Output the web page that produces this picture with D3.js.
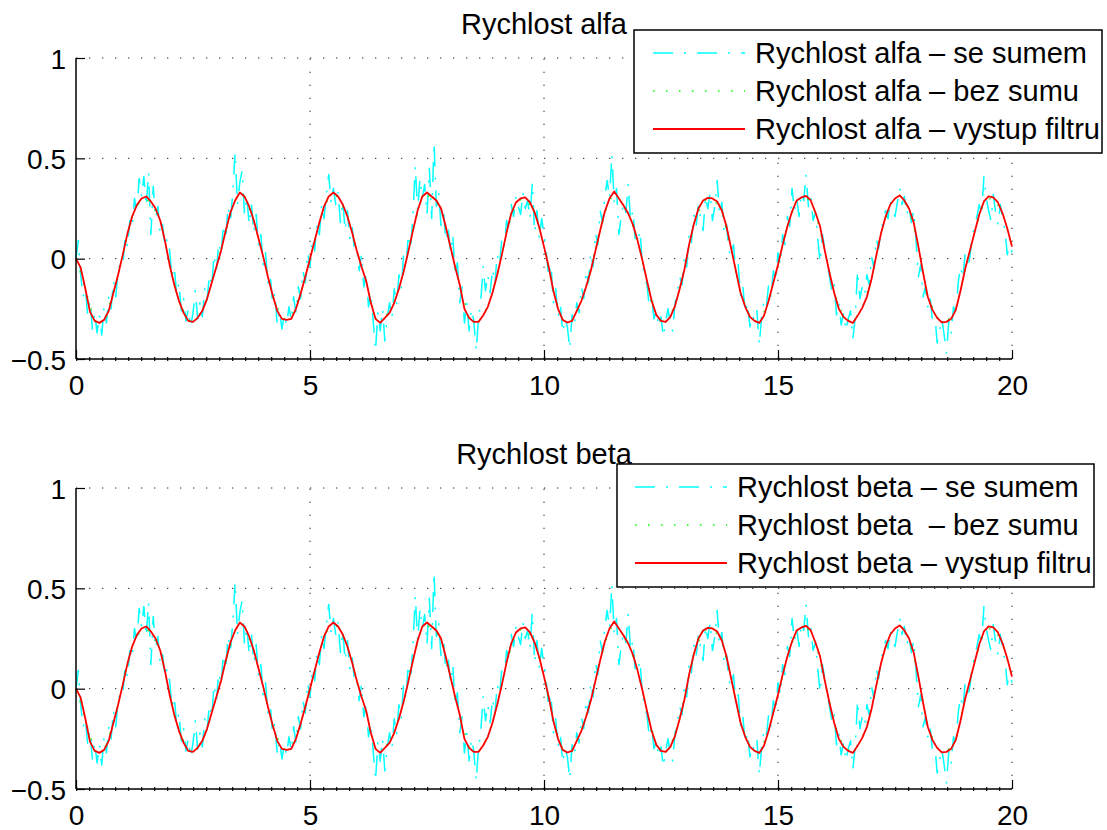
<!DOCTYPE html>
<html>
<head>
<meta charset="utf-8">
<script src="https://cdn.jsdelivr.net/npm/d3@7"></script>
<style>
  body { margin: 0; background: #fff; }
  text { font-family: "Liberation Sans", Arial, Helvetica, sans-serif; fill: #000; }
</style>
</head>
<body>
<svg id="fig" width="1107" height="830"></svg>
<script>
// ---- data ---------------------------------------------------------------
const xTicks = [0, 5, 10, 15, 20];
const yTicks = [-0.5, 0, 0.5, 1];
const yTickLabels = ["\u22120.5", "0", "0.5", "1"];

// sample spacing (s) of the three recorded signals
const noisyStep = 0.05;
const cleanStep = 0.2;
const filterStep = 0.1;

// measured speed with noise ("se sumem")
const noisySpeed = [
  0, 0.09, -0.08, -0.19, -0.15, -0.28, -0.21, -0.35, -0.27, -0.37, -0.28, -0.38, -0.24, -0.32, -0.19, -0.25, -0.11, -0.19, -0.06, -0.02,
  -0.03, 0.11, 0.06, 0.19, 0.15, 0.30, 0.23, 0.40, 0.31, 0.41, 0.26, 0.43, 0.12, 0.36, 0.20, 0.26, 0.12, 0.17, 0.06, 0.10,
  0.04, -0.09, -0.04, -0.18, -0.12, -0.26, -0.20, -0.31, -0.25, -0.34, -0.27, -0.16, -0.30, -0.22, -0.29, -0.15, -0.21, -0.08, -0.14, 0.02,
  -0.06, 0.08, 0.02, 0.17, 0.10, 0.26, 0.19, 0.33, 0.53, 0.27, 0.38, 0.44, 0.22, 0.31, 0.17, 0.27, 0.13, 0.22, 0.06, 0.12,
  -0.03, 0.03, -0.12, -0.08, -0.22, -0.17, -0.33, -0.26, -0.35, -0.28, -0.33, -0.24, -0.31, -0.19, -0.27, -0.14, -0.20, -0.06, -0.12, 0.03,
  -0.04, 0.10, 0.04, 0.18, 0.12, 0.27, 0.20, 0.32, 0.42, 0.28, 0.35, 0.27, 0.33, 0.18, 0.29, 0.14, 0.24, 0.10, 0.16, 0.04,
  0.05, -0.06, 0.02, -0.14, -0.08, -0.24, -0.17, -0.31, -0.46, -0.27, -0.36, -0.25, -0.41, -0.29, -0.22, -0.30, -0.15, -0.23, -0.08, -0.15,
  0.02, -0.05, 0.12, 0.05, 0.22, 0.46, 0.24, 0.40, 0.30, 0.37, 0.22, 0.45, 0.20, 0.58, 0.26, 0.33, 0.16, 0.25, 0.09, 0.16,
  0.03, 0.12, -0.08, -0.02, -0.22, -0.14, -0.32, -0.22, -0.36, -0.25, -0.31, -0.46, -0.30, -0.21, -0.04, -0.16, -0.08, -0.17, -0.05, -0.13,
  0.02, -0.03, 0.10, 0.06, 0.19, 0.15, 0.27, 0.21, 0.31, 0.26, 0.22, 0.33, 0.25, 0.29, 0.20, 0.38, 0.13, 0.24, 0.10, 0.20,
  0.12, 0.03, -0.09, -0.03, -0.22, -0.15, -0.29, -0.23, -0.37, -0.30, -0.34, -0.45, -0.28, -0.33, -0.22, -0.27, -0.14, -0.20, -0.06, -0.12,
  0.03, -0.04, 0.13, 0.07, 0.24, 0.18, 0.31, 0.39, 0.30, 0.52, 0.28, 0.35, 0.12, 0.21, 0.28, 0.23, 0.37, 0.19, 0.24, 0.09,
  0.08, 0.14, -0.02, -0.09, -0.13, -0.24, -0.19, -0.30, -0.26, -0.34, -0.29, -0.39, -0.31, -0.25, -0.33, -0.36, -0.22, -0.17, -0.09, -0.13,
  0.01, -0.04, 0.13, 0.08, 0.22, 0.16, 0.27, 0.20, 0.14, 0.31, 0.25, 0.33, 0.19, 0.26, 0.39, 0.22, 0.28, 0.12, 0.17, 0.04,
  0.01, 0.07, -0.08, -0.03, -0.19, -0.14, -0.27, -0.22, -0.34, -0.28, -0.31, -0.26, -0.43, -0.29, -0.21, -0.24, -0.13, -0.19, -0.06, -0.11,
  0.03, -0.03, 0.12, 0.07, 0.21, 0.16, 0.35, 0.24, 0.30, 0.21, 0.33, 0.29, 0.42, 0.26, 0.31, 0.19, 0.23, 0.10, -0.02, 0.12,
  0.05, -0.02, -0.09, -0.16, -0.12, -0.28, -0.22, -0.33, -0.27, -0.36, -0.30, -0.26, -0.40, -0.29, -0.06, -0.20, -0.14, -0.18, -0.08, -0.13,
  0.01, -0.05, 0.10, 0.05, 0.14, 0.19, 0.24, 0.20, 0.29, 0.24, 0.21, 0.28, 0.35, 0.27, 0.31, 0.22, 0.26, 0.18, 0.24, 0.09,
  -0.09, -0.03, -0.19, -0.14, -0.24, -0.19, -0.31, -0.27, -0.42, -0.36, -0.30, -0.38, -0.47, -0.31, -0.37, -0.24, -0.28, -0.12, -0.04, -0.10,
  0.03, -0.05, 0.01, 0.11, 0.16, 0.21, 0.27, 0.22, 0.41, 0.30, 0.24, 0.19, 0.32, 0.23, 0.17, 0.27, 0.20, 0.14, 0.02, 0.10,
  0.03
];

// ideal speed without noise ("bez sumu")
const cleanSpeed = [
  0, -0.15, -0.31, -0.305, -0.17, 0.02, 0.21, 0.30, 0.285, 0.19,
  -0.03, -0.21, -0.31, -0.295, -0.20, -0.04, 0.14, 0.29, 0.31, 0.19,
  0.01, -0.18, -0.30, -0.30, -0.17, 0.0, 0.18, 0.31, 0.31, 0.21,
  0.04, -0.11, -0.30, -0.295, -0.22, -0.065, 0.14, 0.31, 0.31, 0.25,
  0.06, -0.13, -0.295, -0.315, -0.24, -0.08, 0.13, 0.28, 0.305, 0.23,
  0.06, -0.16, -0.305, -0.31, -0.21, -0.06, 0.14, 0.30, 0.30, 0.225,
  0.09, -0.11, -0.28, -0.315, -0.235, -0.055, 0.17, 0.29, 0.30, 0.24,
  0.05, -0.17, -0.29, -0.32, -0.21, -0.03, 0.16, 0.29, 0.313, 0.23,
  0.04, -0.17, -0.29, -0.32, -0.245, -0.10, 0.125, 0.27, 0.315, 0.25,
  0.06, -0.19, -0.295, -0.315, -0.255, -0.05, 0.13, 0.285, 0.305, 0.225,
  0.06
];

// filter output ("vystup filtru")
const filteredSpeed = [
  0, -0.045, -0.15, -0.265, -0.31, -0.32, -0.305, -0.26, -0.17, -0.08, 0.02, 0.125, 0.21, 0.267, 0.30, 0.31, 0.285, 0.25, 0.19, 0.09,
  -0.03, -0.13, -0.21, -0.27, -0.31, -0.315, -0.295, -0.26, -0.20, -0.12, -0.04, 0.04, 0.14, 0.23, 0.29, 0.33, 0.31, 0.26, 0.19, 0.10,
  0.01, -0.09, -0.18, -0.26, -0.30, -0.305, -0.30, -0.25, -0.175, -0.09, 0.0, 0.09, 0.18, 0.26, 0.31, 0.33, 0.31, 0.27, 0.21, 0.13,
  0.04, -0.04, -0.11, -0.22, -0.30, -0.32, -0.295, -0.27, -0.22, -0.15, -0.065, 0.035, 0.14, 0.24, 0.31, 0.33, 0.31, 0.29, 0.25, 0.16,
  0.06, -0.04, -0.13, -0.25, -0.295, -0.315, -0.315, -0.283, -0.24, -0.17, -0.08, 0.02, 0.13, 0.225, 0.28, 0.30, 0.305, 0.28, 0.23, 0.155,
  0.06, -0.04, -0.16, -0.25, -0.305, -0.318, -0.31, -0.26, -0.21, -0.14, -0.06, 0.04, 0.14, 0.235, 0.30, 0.335, 0.30, 0.265, 0.225, 0.17,
  0.09, -0.005, -0.11, -0.21, -0.28, -0.31, -0.315, -0.29, -0.235, -0.15, -0.055, 0.07, 0.17, 0.25, 0.29, 0.303, 0.30, 0.285, 0.24, 0.16,
  0.05, -0.06, -0.17, -0.24, -0.29, -0.31, -0.32, -0.285, -0.21, -0.12, -0.03, 0.07, 0.16, 0.235, 0.29, 0.305, 0.313, 0.29, 0.23, 0.16,
  0.04, -0.07, -0.17, -0.25, -0.29, -0.31, -0.32, -0.285, -0.245, -0.19, -0.10, 0.015, 0.125, 0.21, 0.27, 0.30, 0.315, 0.29, 0.25, 0.18,
  0.06, -0.07, -0.19, -0.255, -0.295, -0.318, -0.315, -0.30, -0.255, -0.16, -0.05, 0.04, 0.13, 0.22, 0.285, 0.31, 0.305, 0.28, 0.225, 0.15,
  0.06
];

const panelTitles = ["Rychlost alfa", "Rychlost beta"];
const legendLabels = [
  ["Rychlost alfa \u2013 se sumem", "Rychlost alfa \u2013 bez sumu", "Rychlost alfa \u2013 vystup filtru"],
  ["Rychlost beta \u2013 se sumem", "Rychlost beta  \u2013 bez sumu", "Rychlost beta \u2013 vystup filtru"]
];

// ---- layout & styles ----------------------------------------------------
const plotLeft = 76, plotRight = 1012;
const panelLayout = [
  { top: 58, bottom: 359, titleY: 34,
    legend: { x: 634, y: 30, w: 468, h: 123, line0: 653, line1: 745, textX: 755, rows: [53, 91, 129] } },
  { top: 488, bottom: 789, titleY: 464,
    legend: { x: 617, y: 464, w: 477, h: 123, line0: 635, line1: 727, textX: 737, rows: [487, 525, 563] } }
];
const seriesStyle = [
  { color: "#00ffff", width: 1.5, dash: "20,11,2,11" },
  { color: "#00ff00", width: 1.3, dash: "1.5,11.5" },
  { color: "#ff0000", width: 1.8, dash: null }
];
const tickFontSize = 28;
const textFontSize = 29;

const svg = d3.select("#fig");
const x = d3.scaleLinear().domain([0, 20]).range([plotLeft, plotRight]);

const toPoints = (vals, step) => vals.map((v, i) => [i * step, v]);
const series = [
  toPoints(noisySpeed, noisyStep),
  toPoints(cleanSpeed, cleanStep),
  toPoints(filteredSpeed, filterStep)
];

panelLayout.forEach((L, p) => {
  const y = d3.scaleLinear().domain([-0.5, 1]).range([L.bottom, L.top]);
  const g = svg.append("g");

  // dotted grid
  const grid = g.append("g").attr("stroke", "#222").attr("stroke-width", 1)
    .attr("stroke-dasharray", "1.3,11.7");
  grid.selectAll("line.gx").data(xTicks.filter(d => d > 0)).join("line")
    .attr("x1", d => x(d)).attr("x2", d => x(d))
    .attr("y1", L.bottom).attr("y2", L.top);
  grid.selectAll("line.gy").data(yTicks).join("line")
    .attr("x1", plotLeft).attr("x2", plotRight)
    .attr("y1", d => y(d)).attr("y2", d => y(d))
    .attr("stroke-width", d => d === -0.5 ? 4 : 1);

  // signals
  const line = d3.line().x(d => x(d[0])).y(d => y(d[1]));
  series.forEach((pts, k) => {
    const s = seriesStyle[k];
    g.append("path").datum(pts).attr("d", line)
      .attr("fill", "none").attr("stroke", s.color)
      .attr("stroke-width", s.width)
      .attr("stroke-dasharray", s.dash)
      .attr("stroke-linejoin", "round");
  });

  // axes (left and bottom only)
  const xAxis = d3.axisBottom(x).tickValues(xTicks).tickSize(-9).tickPadding(14)
    .tickFormat(d3.format("d"));
  const yAxis = d3.axisLeft(y).tickValues(yTicks).tickSize(-9).tickPadding(10)
    .tickFormat((d, i) => yTickLabels[i]);
  const ax = g.append("g").attr("transform", `translate(0,${L.bottom})`).call(xAxis);
  const ay = g.append("g").attr("transform", `translate(${plotLeft},0)`).call(yAxis);
  [ax, ay].forEach(a => {
    a.select(".domain").attr("stroke", "#000").attr("stroke-width", 1.5)
      .attr("d", a === ax ? `M${plotLeft},0H${plotRight}` : `M0,${L.bottom}V${L.top}`);
    a.selectAll(".tick line").attr("stroke", "#000").attr("stroke-width", 1.2);
    a.selectAll(".tick text").attr("font-size", tickFontSize)
      .attr("font-family", "Liberation Sans, Arial, sans-serif").attr("fill", "#000");
  });
  ax.selectAll(".tick text").attr("dy", "0.71em").attr("y", 16);
  ay.selectAll(".tick text").attr("dy", "0.36em").attr("x", -10);

  // title
  g.append("text").attr("x", (plotLeft + plotRight) / 2).attr("y", L.titleY)
    .attr("text-anchor", "middle").attr("font-size", textFontSize)
    .text(panelTitles[p]);

  // legend
  const lg = g.append("g");
  lg.append("rect").attr("x", L.legend.x).attr("y", L.legend.y)
    .attr("width", L.legend.w).attr("height", L.legend.h)
    .attr("fill", "#fff").attr("stroke", "#000").attr("stroke-width", 1.5);
  legendLabels[p].forEach((lab, k) => {
    const s = seriesStyle[k];
    const ry = L.legend.rows[k];
    lg.append("line").attr("x1", L.legend.line0).attr("x2", L.legend.line1)
      .attr("y1", ry).attr("y2", ry)
      .attr("stroke", s.color).attr("stroke-width", s.width)
      .attr("stroke-dasharray", s.dash);
    lg.append("text").attr("x", L.legend.textX).attr("y", ry).attr("dy", "0.36em")
      .attr("font-size", textFontSize).style("white-space", "pre").text(lab);
  });
});
</script>
</body>
</html>
